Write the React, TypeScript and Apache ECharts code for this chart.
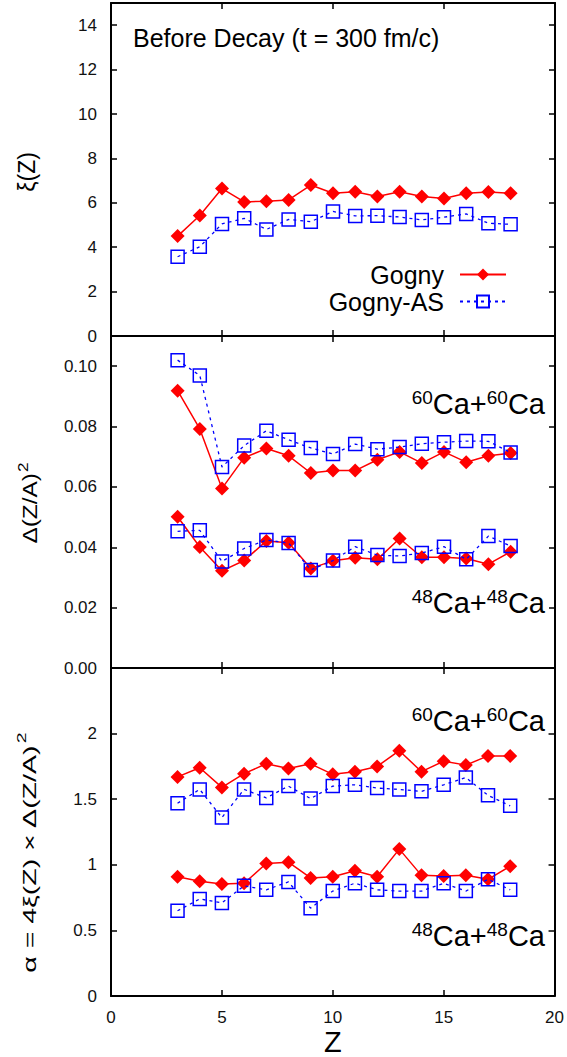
import React, { useEffect, useRef } from 'react';
import * as echarts from 'echarts';

const zValues = [3, 4, 5, 6, 7, 8, 9, 10, 11, 12, 13, 14, 15, 16, 17, 18];

const xiGogny = [4.50, 5.43, 6.64, 6.04, 6.07, 6.13, 6.80, 6.43, 6.50, 6.28, 6.50, 6.28, 6.19, 6.43, 6.49, 6.43];
const xiGognyAS = [3.57, 4.02, 5.05, 5.30, 4.80, 5.25, 5.15, 5.61, 5.41, 5.42, 5.36, 5.23, 5.35, 5.50, 5.08, 5.03];

const d60Gogny = [0.0919, 0.0792, 0.0595, 0.0697, 0.0727, 0.0703, 0.0646, 0.0654, 0.0654, 0.0690, 0.0716, 0.0679, 0.0716, 0.0682, 0.0703, 0.0712];
const d60GognyAS = [0.1020, 0.0969, 0.0666, 0.0737, 0.0786, 0.0756, 0.0729, 0.0709, 0.0742, 0.0725, 0.0732, 0.0743, 0.0748, 0.0752, 0.0751, 0.0714];
const d48Gogny = [0.0501, 0.0401, 0.0322, 0.0356, 0.0421, 0.0415, 0.0330, 0.0355, 0.0365, 0.0360, 0.0429, 0.0367, 0.0367, 0.0363, 0.0344, 0.0385];
const d48GognyAS = [0.0453, 0.0456, 0.0353, 0.0396, 0.0424, 0.0414, 0.0325, 0.0356, 0.0402, 0.0374, 0.0371, 0.0381, 0.0402, 0.0360, 0.0437, 0.0404];

const a60Gogny = [1.67, 1.74, 1.59, 1.695, 1.77, 1.735, 1.77, 1.69, 1.71, 1.75, 1.87, 1.71, 1.79, 1.76, 1.83, 1.83];
const a60GognyAS = [1.47, 1.575, 1.36, 1.575, 1.51, 1.60, 1.505, 1.60, 1.61, 1.585, 1.575, 1.56, 1.61, 1.665, 1.53, 1.45];
const a48Gogny = [0.91, 0.875, 0.855, 0.86, 1.01, 1.02, 0.90, 0.91, 0.955, 0.91, 1.12, 0.92, 0.915, 0.92, 0.89, 0.99];
const a48GognyAS = [0.65, 0.74, 0.71, 0.84, 0.81, 0.87, 0.67, 0.80, 0.86, 0.81, 0.80, 0.80, 0.86, 0.80, 0.89, 0.81];

const seriesNames = ['Gogny', 'Gogny-AS'];
const titleText = 'Before Decay (t = 300 fm/c)';
const yNameBases = ['ξ(Z)', 'Δ(Z/A)', 'α = 4ξ(Z) × Δ(Z/A)'];
const yNameSups = ['', '2', '2'];
const yRanges = [
  { min: 0, max: 15, interval: 2, digits: 0 },
  { min: 0, max: 0.11, interval: 0.02, digits: 2 },
  { min: 0, max: 2.5, interval: 0.5, digits: -1 },
];

const FONT = '"Liberation Sans", Arial, Helvetica, sans-serif';
const RED = '#ff0000';
const BLUE = '#0000ff';

export default function App() {
  const ref = useRef<HTMLDivElement>(null);

  useEffect(() => {
    document.body.style.margin = '0';
    if (!ref.current) return;
    const chart = echarts.init(ref.current, undefined, { renderer: 'svg' });

    const grids = [
      { left: 111, width: 444, top: 3, height: 333 },
      { left: 111, width: 444, top: 336, height: 332 },
      { left: 111, width: 444, top: 668, height: 334 },
    ];

    const axisLine = { show: true, onZero: false, lineStyle: { color: '#000', width: 2 } };
    const axisTick = { show: true, inside: true, length: 6, lineStyle: { color: '#000', width: 1.5 } };

    const xAxes: any[] = [];
    const yAxes: any[] = [];
    grids.forEach((_, i) => {
      ['bottom', 'top'].forEach((pos) => {
        const isMain = pos === 'bottom' && i === 2;
        xAxes.push({
          type: 'value',
          gridIndex: i,
          position: pos,
          min: 0,
          max: 20,
          interval: 5,
          axisLine,
          axisTick,
          splitLine: { show: false },
          axisLabel: {
            show: isMain,
            fontSize: 17,
            color: '#111',
            fontFamily: FONT,
            margin: 13,
          },
          name: isMain ? 'Z' : '',
          nameLocation: 'middle',
          nameGap: 28,
          nameTextStyle: { fontSize: 29, color: '#000', fontFamily: FONT },
        });
      });
      const r = yRanges[i];
      ['left', 'right'].forEach((pos) => {
        yAxes.push({
          type: 'value',
          gridIndex: i,
          position: pos,
          min: r.min,
          max: r.max,
          interval: r.interval,
          axisLine,
          axisTick,
          splitLine: { show: false },
          axisLabel: {
            show: pos === 'left',
            showMaxLabel: false,
            showMinLabel: true,
            fontSize: 17,
            color: '#111',
            fontFamily: FONT,
            margin: 14,
            formatter: (v: number) =>
              r.digits >= 0 ? v.toFixed(r.digits) : String(Math.round(v * 10) / 10),
          },
        });
      });
    });

    const toData = (arr: number[]) => zValues.map((z, i) => [z, arr[i]]);

    const gognySeries = (arr: number[], gi: number) => ({
      type: 'line',
      name: seriesNames[0],
      xAxisIndex: gi * 2,
      yAxisIndex: gi * 2,
      data: toData(arr),
      symbol: 'diamond',
      symbolSize: 14,
      lineStyle: { color: RED, width: 1.5, type: 'solid' },
      itemStyle: { color: RED, borderWidth: 0 },
      z: 2,
    });
    const asSeries = (arr: number[], gi: number) => ({
      type: 'line',
      name: seriesNames[1],
      xAxisIndex: gi * 2,
      yAxisIndex: gi * 2,
      data: toData(arr),
      symbol: 'rect',
      symbolSize: 13,
      lineStyle: { color: BLUE, width: 1.3, type: [3, 4] },
      itemStyle: { color: 'rgba(255,255,255,0)', borderColor: BLUE, borderWidth: 1.5 },
      z: 3,
    });

    const series = [
      gognySeries(xiGogny, 0),
      asSeries(xiGognyAS, 0),
      gognySeries(d60Gogny, 1),
      asSeries(d60GognyAS, 1),
      gognySeries(d48Gogny, 1),
      asSeries(d48GognyAS, 1),
      gognySeries(a60Gogny, 2),
      asSeries(a60GognyAS, 2),
      gognySeries(a48Gogny, 2),
      asSeries(a48GognyAS, 2),
    ];

    const yNameLayout = [
      { x: 25, y: 172, font: 23, scale: 1.0 },
      { x: 28, y: 503, font: 20, scale: 1.22 },
      { x: 27, y: 853, font: 19, scale: 1.5 },
    ];

    const reaction = (mass: string, x: number, y: number) => ({
      type: 'text',
      x,
      y,
      style: {
        text: `{s|${mass}}{b|Ca+}{s|${mass}}{b|Ca}`,
        align: 'right',
        verticalAlign: 'middle',
        fill: '#000',
        rich: {
          b: { fontSize: 29, fontFamily: FONT, fill: '#000', lineHeight: 30, verticalAlign: 'bottom' },
          s: { fontSize: 19, fontFamily: FONT, fill: '#000', lineHeight: 30, verticalAlign: 'top', padding: [0, 0, 10, 0] },
        },
      },
      z: 10,
    });

    const graphic: any[] = [
      {
        type: 'text',
        x: 133,
        y: 38,
        style: {
          text: titleText,
          font: `25px ${FONT}`,
          fill: '#000',
          align: 'left',
          verticalAlign: 'middle',
        },
      },
      ...yNameBases.map((t, i) => {
        const L = yNameLayout[i];
        const sup = yNameSups[i];
        return {
          type: 'text',
          x: L.x,
          y: L.y,
          rotation: Math.PI / 2,
          scaleX: L.scale,
          style: {
            text: sup ? `{b|${t}}{s|${sup}}` : `{b|${t}}`,
            align: 'center',
            verticalAlign: 'middle',
            fill: '#000',
            rich: {
              b: { fontSize: L.font, fontFamily: FONT, fill: '#000', lineHeight: L.font + 4, verticalAlign: 'bottom' },
              s: { fontSize: Math.round(L.font * 0.68), fontFamily: FONT, fill: '#000', lineHeight: L.font + 4, verticalAlign: 'top', padding: [0, 0, 8, 1] },
            },
          },
        };
      }),
      reaction('60', 545, 403),
      reaction('48', 545, 602),
      reaction('60', 545, 720),
      reaction('48', 545, 935),
    ];

    chart.setOption({
      animation: false,
      backgroundColor: '#fff',
      grid: grids,
      xAxis: xAxes,
      yAxis: yAxes,
      legend: {
        data: seriesNames,
        orient: 'vertical',
        align: 'right',
        right: 55,
        top: 257,
        itemWidth: 46,
        itemHeight: 15,
        itemGap: 2,
        textStyle: { fontSize: 25, color: '#000', fontFamily: FONT, padding: [0, 11, 0, 0] },
      },
      series,
      graphic,
    });

    return () => chart.dispose();
  }, []);

  return (
    <div
      ref={ref}
      style={{ position: 'absolute', left: 0, top: 0, width: 567, height: 1057, background: '#fff' }}
    />
  );
}
